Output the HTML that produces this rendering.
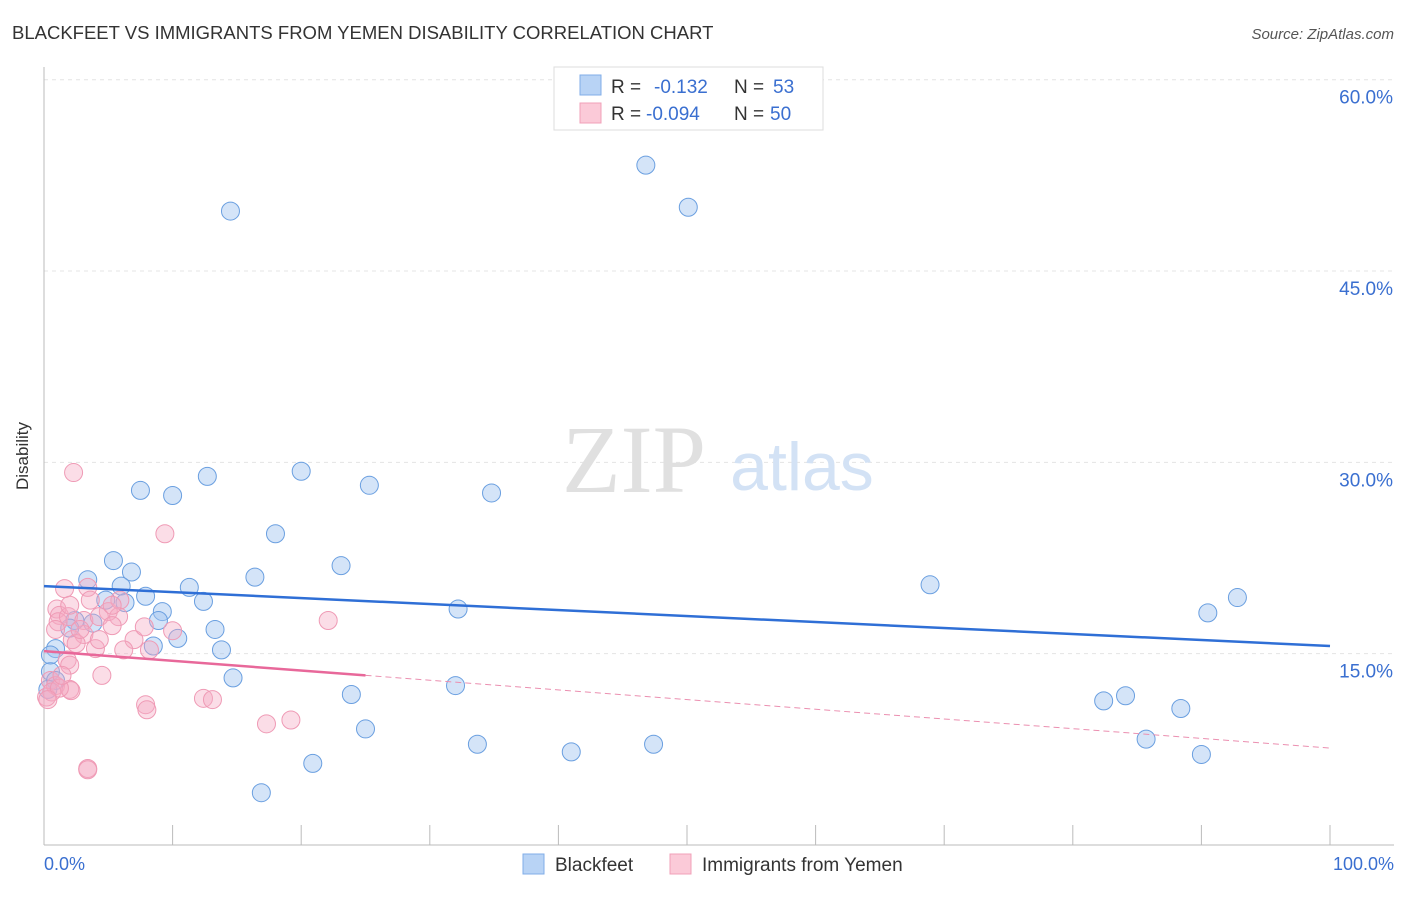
<!DOCTYPE html>
<html><head><meta charset="utf-8"><style>
body{margin:0;background:#fff;font-family:"Liberation Sans",sans-serif}
svg text{font-family:"Liberation Sans",sans-serif}
</style></head><body>
<svg width="1406" height="892" xmlns="http://www.w3.org/2000/svg">
<text x="12" y="39" font-size="18.5" fill="#333">BLACKFEET VS IMMIGRANTS FROM YEMEN DISABILITY CORRELATION CHART</text>
<text x="1394" y="39" font-size="15" fill="#555" text-anchor="end" font-style="italic">Source: ZipAtlas.com</text>
<g id="grid"></g>
<text x="634" y="492" font-size="96" fill="#e0e0e0" text-anchor="middle" font-family="Liberation Serif,serif" style="font-family:'Liberation Serif',serif">ZIP</text>
<text x="802" y="490" font-size="68" fill="#d3e2f5" text-anchor="middle">atlas</text>
<g id="pts"></g>
<g id="lines"></g>
<text x="28" y="456" font-size="17" fill="#333" text-anchor="middle" transform="rotate(-90 28 456)">Disability</text>
<g>
<rect x="554" y="67" width="269" height="63" fill="#fff" stroke="#ddd"/>
<rect x="580" y="75" width="21" height="20" fill="#b8d3f5" stroke="#80aee8"/>
<rect x="580" y="103" width="21" height="20" fill="#fbcad8" stroke="#f0a0b8"/>
<text x="611" y="93" font-size="19" fill="#333">R = </text><text x="654" y="93" font-size="19" fill="#3a6fd0">-0.132</text>
<text x="734" y="93" font-size="19" fill="#333">N = </text><text x="773" y="93" font-size="19" fill="#3a6fd0">53</text>
<text x="611" y="120" font-size="19" fill="#333">R = </text><text x="646" y="120" font-size="19" fill="#3a6fd0">-0.094</text>
<text x="734" y="120" font-size="19" fill="#333">N = </text><text x="770" y="120" font-size="19" fill="#3a6fd0">50</text>
</g>
<g>
<rect x="523" y="854" width="21" height="20" fill="#b8d3f5" stroke="#80aee8"/>
<text x="555" y="871" font-size="19" fill="#333">Blackfeet</text>
<rect x="670" y="854" width="21" height="20" fill="#fbcad8" stroke="#f0a0b8"/>
<text x="702" y="871" font-size="19" fill="#333">Immigrants from Yemen</text>
</g>
</svg>
<script>
const blueX=[14.5,46.8,50.1,7.5,10.0,12.7,20.0,25.3,34.8,18.0,5.4,23.1,6.8,16.4,3.4,6.0,11.3,7.9,4.8,6.3,12.4,9.2,32.2,8.9,2.4,3.8,2.0,13.3,10.4,8.5,13.8,0.9,0.5,14.7,0.9,32.0,23.9,25.0,33.7,41.0,47.4,20.9,16.9,68.9,92.8,90.5,82.4,84.1,88.4,85.7,90.0,0.5,0.3];
const blueY=[49.7,53.3,50.0,27.8,27.4,28.9,29.3,28.2,27.6,24.4,22.3,21.9,21.4,21.0,20.8,20.3,20.2,19.5,19.2,19.0,19.1,18.3,18.5,17.6,17.6,17.4,17.0,16.9,16.2,15.6,15.3,15.4,13.6,13.1,12.9,12.5,11.8,9.1,7.9,7.3,7.9,6.4,4.1,20.4,19.4,18.2,11.3,11.7,10.7,8.3,7.1,14.9,12.2];
const pinkX=[2.3,9.4,1.6,3.4,1.0,1.2,1.1,1.9,3.1,5.0,5.9,5.8,4.3,3.1,2.2,2.5,4.0,7.0,7.8,10.0,6.2,22.1,1.8,2.0,4.5,0.5,0.9,0.2,0.6,2.0,2.1,1.2,12.4,13.1,7.9,8.0,17.3,19.2,3.4,3.4,2.8,4.3,1.4,0.3,0.9,5.3,3.6,8.2,2.0,5.3];
const pinkY=[29.2,24.4,20.1,20.2,18.5,18.0,17.5,17.9,17.6,18.3,19.2,17.9,17.9,16.5,16.1,15.8,15.4,16.1,17.1,16.8,15.3,17.6,14.5,14.1,13.3,12.9,12.5,11.6,12.0,12.2,12.1,12.3,11.5,11.4,11.0,10.6,9.5,9.8,6.0,5.9,16.9,16.1,13.3,11.4,16.9,18.8,19.2,15.3,18.8,17.2];
const yTicks=[15,30,45,60];
const xTicks=[0,10,20,30,40,50,60,70,80,90,100];
const blueTrend=[20.3,15.6]; // y at x=0 and x=100
const pinkTrend=[15.2,7.6];
const pinkSolidEnd=25;
const X=v=>44+v*12.86, Y=v=>845-v*12.755;
const NS="http://www.w3.org/2000/svg";
function mk(t,a,p){const e=document.createElementNS(NS,t);for(const k in a)e.setAttribute(k,a[k]);p.appendChild(e);return e;}
const grid=document.getElementById('grid');
yTicks.forEach(t=>{
 const l=mk('line',{x1:44,x2:1394,y1:Y(t),y2:Y(t),stroke:'#e4e4e4','stroke-dasharray':'4,4'},grid);
 
 
 const tx=mk('text',{x:1393,y:Y(t)+24,'font-size':19,fill:'#3a6fd0','text-anchor':'end'},grid);tx.textContent=t.toFixed(1)+'%';
 
 
});
mk('line',{x1:44,x2:44,y1:67,y2:845,stroke:'#bbb'},grid);
mk('line',{x1:44,x2:1394,y1:845,y2:845,stroke:'#bbb'},grid);
xTicks.forEach(t=>{const l=mk('line',{x1:X(t),x2:X(t),y1:825,y2:845,stroke:'#bbb'},grid);
 
 });
[[0,'0.0%','start',44],[100,'100.0%','end',1394]].forEach(([v,s,a,x])=>{const tx=mk('text',{x:x,y:870,'font-size':18,fill:'#3a6fd0','text-anchor':a},grid);tx.textContent=s;
 
 });
const pts=document.getElementById('pts');
blueX.forEach((v,i)=>{const c=mk('circle',{cx:X(v),cy:Y(blueY[i]),r:9,fill:'rgba(160,196,240,0.45)',stroke:'#6a9fe0','stroke-width':1},pts);
 
 });
pinkX.forEach((v,i)=>{const c=mk('circle',{cx:X(v),cy:Y(pinkY[i]),r:9,fill:'rgba(245,170,195,0.4)',stroke:'#ef9ab5','stroke-width':1},pts);
 
 });
const ln=document.getElementById('lines');
const b=mk('line',{x1:X(0),y1:Y(blueTrend[0]),x2:X(100),y2:Y(blueTrend[1]),stroke:'#2f6fd6','stroke-width':2.5},ln);


const pe=pinkTrend[0]+(pinkTrend[1]-pinkTrend[0])*pinkSolidEnd/100;
const p=mk('line',{x1:X(0),y1:Y(pinkTrend[0]),x2:X(pinkSolidEnd),y2:Y(pe),stroke:'#e8689a','stroke-width':2.5},ln);


const pd=mk('line',{x1:X(pinkSolidEnd),y1:Y(pe),x2:X(100),y2:Y(pinkTrend[1]),stroke:'#eb8fb0','stroke-width':1,'stroke-dasharray':'6,4'},ln);


</script>
</body></html>
